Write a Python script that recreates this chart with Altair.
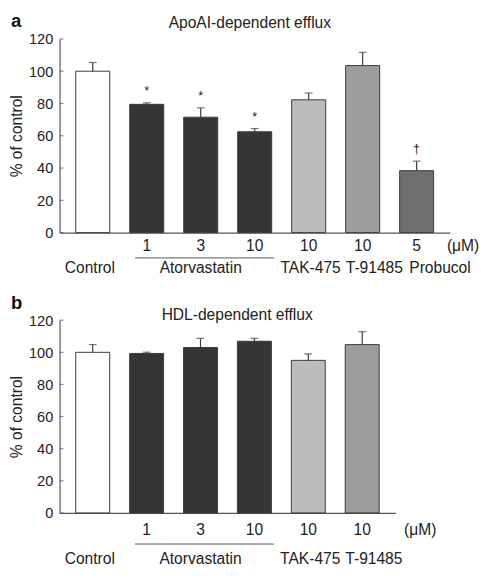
import altair as alt
import pandas as pd

# ---- data ----
categories = ["Control", "Atorvastatin 1", "Atorvastatin 3", "Atorvastatin 10",
              "TAK-475", "T-91485", "Probucol"]
doses = ["", "1", "3", "10", "10", "10", "5"]
group_labels = ["Control", "", "Atorvastatin", "", "TAK-475", "T-91485", "Probucol"]
bar_colors = ["#ffffff", "#353535", "#353535", "#353535", "#bcbcbc", "#9d9d9d", "#6f6f6f"]

# panel a: ApoAI-dependent efflux (% of control), mean and SEM
apoai_mean = [100, 79.5, 71.5, 62.5, 82.3, 103.5, 38.4]
apoai_sem = [5.4, 0.9, 5.8, 2.0, 4.2, 8.2, 5.9]
apoai_sig = ["", "*", "*", "*", "", "", "†"]

# panel b: HDL-dependent efflux (% of control), mean and SEM
hdl_mean = [100, 99.3, 103.0, 106.9, 95.0, 104.8]
hdl_sem = [4.8, 0.8, 5.7, 1.8, 4.0, 8.0]
hdl_sig = ["", "", "", "", "", ""]

y_ticks = [0, 20, 40, 60, 80, 100, 120]

FONT = "Liberation Sans"
INK = "#222222"
LINE = "#3a3a3a"
AXIS = "#555555"


def panel(n, means, sems, sigs, title, letter, width, height,
          dose_dy, line_dy, group_dy, unit_x, title_dx, title_y):
    cats = categories[:n]
    df = pd.DataFrame({
        "cat": cats,
        "mean": means,
        "sem": sems,
        "sig": sigs,
        "dose": doses[:n],
        "group": group_labels[:n],
    })
    base = alt.Chart(df).transform_calculate(upper="datum.mean + datum.sem")
    xscale = alt.Scale(domain=cats, paddingInner=0.37, paddingOuter=0.3)
    xaxis = alt.Axis(labels=False, ticks=False, title=None,
                     domainColor=AXIS, domainWidth=1.2)
    yscale = alt.Scale(domain=[0, 120], nice=False, zero=True)
    yaxis = alt.Axis(values=y_ticks, title="% of control", grid=False,
                     labelOverlap=False, ticks=False, tickSize=0,
                     domainColor=AXIS, domainWidth=1.2,
                     labelFontSize=15, labelColor=INK, labelPadding=7,
                     titleFontSize=16, titleFontWeight="normal",
                     titleColor=INK, titlePadding=4)

    def X(field="cat"):
        return alt.X(f"{field}:N", scale=xscale, axis=xaxis)

    def Y(field):
        return alt.Y(f"{field}:Q", scale=yscale, axis=yaxis)

    bars = base.mark_bar(stroke=LINE, strokeWidth=1).encode(
        x=X(), y=Y("mean"),
        fill=alt.Fill("cat:N", scale=alt.Scale(domain=categories, range=bar_colors),
                      legend=None),
    )
    err = base.mark_rule(color=LINE, strokeWidth=1.2).encode(
        x=X(), y=Y("mean"), y2="upper:Q")
    cap = base.mark_tick(color=LINE, size=8, thickness=1.2).encode(
        x=X(), y=Y("upper"))
    sig = base.mark_text(fontSize=13, color=INK, font=FONT, baseline="middle", dy=-12).encode(
        x=X(), y=Y("upper"), text="sig:N")
    # inward y-axis ticks
    yt = alt.Chart(pd.DataFrame({"v": y_ticks})).mark_tick(
        color=AXIS, size=4, thickness=1.2, orient="horizontal", xOffset=2).encode(
        x=alt.value(0), y=Y("v"))
    dose = base.mark_text(fontSize=16, color=INK, font=FONT, baseline="middle").encode(
        x=X(), y=alt.value(height + dose_dy), text="dose:N")
    groups = []
    for g, dx in [("Control", -3), ("Atorvastatin", 0), ("TAK-475", 2),
                  ("T-91485", 12), ("Probucol", 24)]:
        if g in df["group"].values:
            groups.append(
                base.transform_filter(alt.datum.group == g).mark_text(
                    fontSize=16, color=INK, font=FONT, baseline="middle", dx=dx
                ).encode(x=X(), y=alt.value(height + group_dy), text="group:N"))
    bracket_df = pd.DataFrame({"start": [categories[1]], "end": [categories[3]]})
    bracket = alt.Chart(bracket_df).mark_rule(
        color=AXIS, strokeWidth=1, xOffset=-12, x2Offset=20).encode(
        x=X("start"), x2="end:N", y=alt.value(height + line_dy))
    unit = alt.Chart(pd.DataFrame({"t": ["(μM)"]})).mark_text(
        fontSize=16, color=INK, font=FONT, baseline="middle", align="left").encode(
        x=alt.value(width + unit_x), y=alt.value(height + dose_dy), text="t:N")
    let = alt.Chart(pd.DataFrame({"t": [letter]})).mark_text(
        fontSize=19, fontWeight="bold", color="#111111", font=FONT,
        baseline="alphabetic", align="left").encode(
        x=alt.value(-50), y=alt.value(-12), text="t:N")
    ttl = alt.Chart(pd.DataFrame({"t": [title]})).mark_text(
        fontSize=16, color=INK, font=FONT, baseline="alphabetic", align="center").encode(
        x=alt.value(width / 2 + title_dx), y=alt.value(title_y), text="t:N")
    return alt.layer(bars, err, cap, sig, yt, dose, *groups, bracket, unit, let, ttl).properties(
        width=width, height=height,
    )


pa = panel(7, apoai_mean, apoai_sem, apoai_sig, "ApoAI-dependent efflux", "a",
           401, 199, 14, 26, 37, -3, -5, -11)
pb = panel(6, hdl_mean, hdl_sem, hdl_sig, "HDL-dependent efflux", "b",
           345, 198, 18, 32, 48, 9, 10, 0)

chart = alt.vconcat(pa, pb, spacing=90, bounds="flush").configure(
    font=FONT, padding={"left": 0, "top": -3, "right": 0, "bottom": 0}
).configure_view(stroke=None)

chart.save("out.html", embed_options={"renderer": "svg", "actions": False})
